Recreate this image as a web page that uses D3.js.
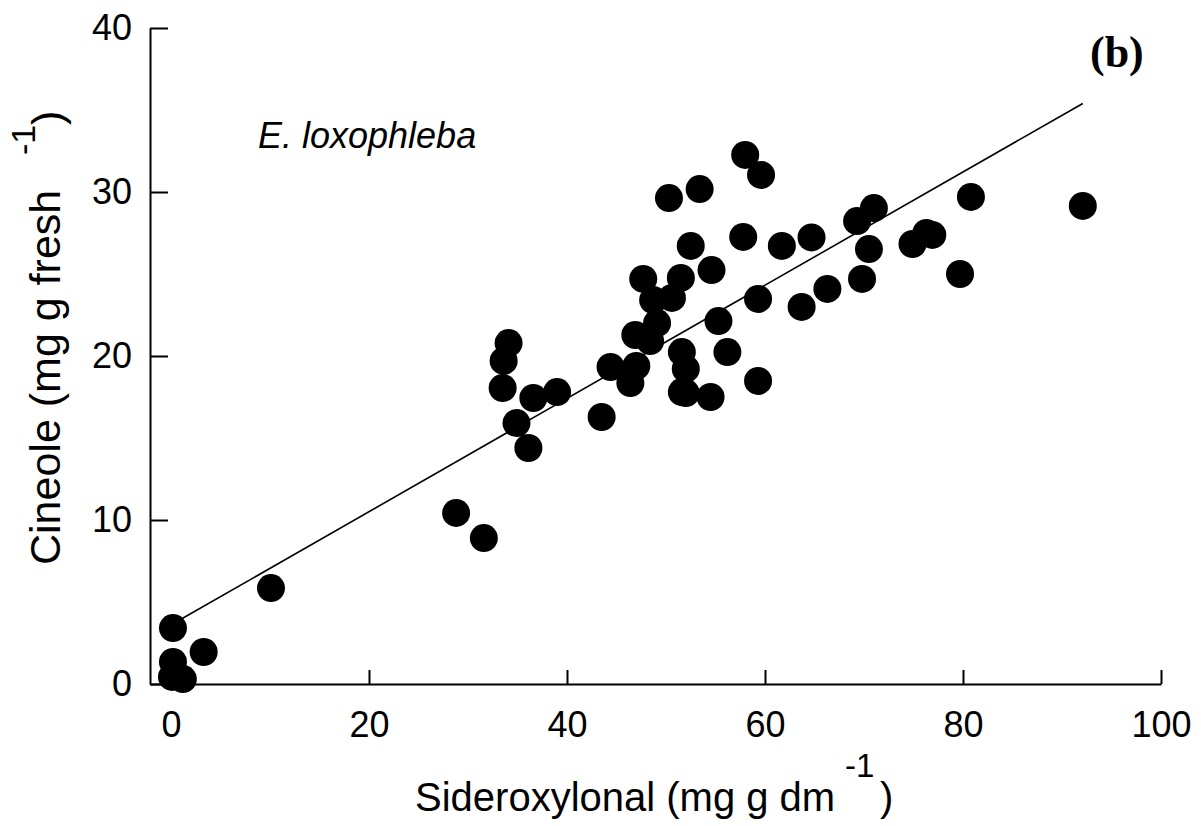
<!DOCTYPE html>
<html>
<head>
<meta charset="utf-8">
<script src="https://cdn.jsdelivr.net/npm/d3@7"></script>
<style>
  body { margin: 0; background: #fff; }
  svg { display: block; font-family: "Liberation Sans", Arial, sans-serif; }
</style>
</head>
<body>
<svg id="chart" width="1201" height="826"></svg>
<script>
// values (E. loxophleba)
const SIDEROXYLONAL = [0.2, 0.2, 0.1, 1.2, 3.3, 10.1, 28.8, 31.6, 34.1, 33.6, 33.5, 36.6, 39.0, 34.9,
    36.1, 43.5, 44.4, 46.4, 47.0, 46.9, 48.4, 49.1, 47.7, 48.7, 50.6, 51.5, 52.5, 54.6, 55.3, 56.2,
    51.6, 52.0, 51.6, 52.0, 54.5, 59.3, 59.3, 61.7, 57.8, 63.7, 50.3, 53.4, 58.0, 59.6, 64.7, 66.3,
    69.3, 71.0, 70.5, 69.8, 74.9, 76.3, 76.9, 80.8, 79.7, 92.1];
const CINEOLE = [3.41, 1.34, 0.43, 0.30, 1.95, 5.85, 10.43, 8.90, 20.79, 19.70, 18.05, 17.44, 17.80, 15.91,
    14.39, 16.28, 19.33, 18.35, 19.39, 21.28, 20.91, 22.01, 24.70, 23.41, 23.54, 24.76, 26.71, 25.24, 22.13, 20.24,
    20.24, 19.21, 17.80, 17.74, 17.50, 18.48, 23.48, 26.71, 27.26, 22.99, 29.63, 30.18, 32.26, 31.04, 27.23, 24.09,
    28.23, 29.02, 26.52, 24.70, 26.83, 27.50, 27.38, 29.70, 25.0, 29.15];

// fitted line end points
const FIT_X = [0.2, 92.1];
const FIT_Y = [3.67, 35.4];

const X_TICKS = [0, 20, 40, 60, 80, 100];
const Y_TICKS = [0, 10, 20, 30, 40];

const SVG1 = d3.select('#chart');
const LEFT = 150, RIGHT = 1161, TOP = 28, BOTTOM = 684;

const X_SCALE = d3.scaleLinear().domain([-2.12, 100]).range([LEFT, RIGHT]);
const Y_SCALE = d3.scaleLinear().domain([0, 40]).range([BOTTOM, TOP]);

const styleAxis = (g, size) => {
    g.select('.domain').attr('stroke', '#000').attr('stroke-width', 2);
    g.selectAll('.tick line').attr('stroke', '#000').attr('stroke-width', 2);
    g.selectAll('.tick text')
        .attr('fill', '#000')
        .style('font-family', '"Liberation Sans", Arial, sans-serif')
        .style('font-size', size + 'px');
}

const buildXAxis = () => {
    const axis = d3.axisBottom(X_SCALE)
        .tickValues(X_TICKS)
        .tickFormat(d3.format('d'))
        .tickSizeInner(-14)
        .tickSizeOuter(0)
        .tickPadding(27);
    const g = SVG1.append('g')
        .attr('id', 'xAxis')
        .attr('transform', `translate(0,${BOTTOM})`)
        .call(axis);
    styleAxis(g, 36);
}

const buildYAxis = () => {
    const axis = d3.axisLeft(Y_SCALE)
        .tickValues(Y_TICKS)
        .tickFormat(d3.format('d'))
        .tickSizeInner(-18)
        .tickSizeOuter(0)
        .tickPadding(18);
    const g = SVG1.append('g')
        .attr('id', 'yAxis')
        .attr('transform', `translate(${LEFT},0)`)
        .call(axis);
    styleAxis(g, 36);
}

const buildFit = () => {
    SVG1.append('path')
        .datum(d3.zip(FIT_X, FIT_Y))
        .attr('d', d3.line().x(d => X_SCALE(d[0])).y(d => Y_SCALE(d[1])))
        .attr('fill', 'none')
        .attr('stroke', '#000')
        .attr('stroke-width', 1.6);
}

const buildDots = () => {
    SVG1.append('g')
        .attr('id', 'dots')
        .selectAll('circle')
        .data(d3.zip(SIDEROXYLONAL, CINEOLE))
        .join('circle')
        .attr('cx', d => X_SCALE(d[0]))
        .attr('cy', d => Y_SCALE(d[1]))
        .attr('r', 14)
        .attr('fill', '#000');
}

const buildLabels = () => {
    // x title with superscript
    SVG1.append('text')
        .attr('x', 415).attr('y', 811)
        .style('font-size', '40px')
        .text('Sideroxylonal (mg g dm');
    SVG1.append('text')
        .attr('x', 845).attr('y', 777)
        .style('font-size', '33px')
        .text('-1');
    SVG1.append('text')
        .attr('x', 880).attr('y', 811)
        .style('font-size', '40px')
        .text(')');

    // y title, rotated
    const yt = SVG1.append('g').attr('transform', 'rotate(-90)');
    yt.append('text')
        .attr('x', -565).attr('y', 60)
        .style('font-size', '43px')
        .text('Cineole (mg g fresh');
    yt.append('text')
        .attr('x', -155).attr('y', 35)
        .style('font-size', '34px')
        .text('-1');
    yt.append('text')
        .attr('x', -125).attr('y', 62)
        .style('font-size', '43px')
        .text(')');

    SVG1.append('text')
        .attr('x', 258).attr('y', 148)
        .style('font-size', '36px')
        .style('font-style', 'italic')
        .text('E. loxophleba');

    SVG1.append('text')
        .attr('x', 1090).attr('y', 67)
        .style('font-family', '"Liberation Serif", "Times New Roman", serif')
        .style('font-size', '44px')
        .style('font-weight', 'bold')
        .text('(b)');
}

buildXAxis();
buildYAxis();
buildFit();
buildDots();
buildLabels();
</script>
</body>
</html>
